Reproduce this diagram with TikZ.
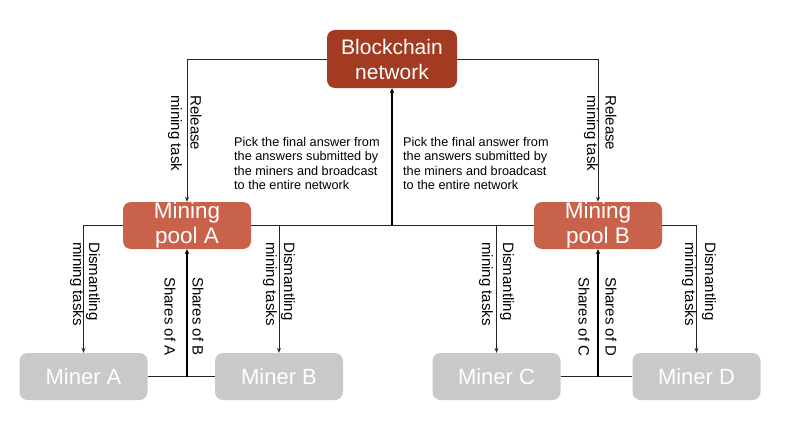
\documentclass[tikz,border=0pt]{standalone}
\usepackage{fontspec}
\setmainfont{Liberation Sans}
\usetikzlibrary{arrows.meta}
\definecolor{bcred}{HTML}{A23B22}
\definecolor{poolred}{HTML}{C9624A}
\definecolor{minergray}{HTML}{C9C9C9}
\definecolor{linec}{HTML}{262626}
\tikzset{
  box/.style={rounded corners=8pt, inner sep=0pt, align=center, text=white},
  bcbox/.style={box, fill=bcred, minimum width=130pt, minimum height=58pt, font=\fontsize{21}{25}\selectfont},
  poolbox/.style={box, fill=poolred, minimum width=128pt, minimum height=47pt, font=\fontsize{22.5}{25}\selectfont},
  minerbox/.style={box, fill=minergray, minimum width=128pt, minimum height=47pt, font=\fontsize{22}{25}\selectfont},
  conn/.style={draw=linec, line width=0.9pt},
  arr/.style={conn, -{Stealth[length=5pt,width=4pt]}},
  thickarr/.style={draw=black, line width=1.8pt, -{Stealth[length=5pt,width=4.5pt]}},
  vlabel/.style={rotate=-90, anchor=west, inner sep=0pt, font=\fontsize{15}{17}\selectfont},
  note/.style={anchor=north west, inner sep=0pt, align=left, font=\fontsize{12.7}{14.3}\selectfont}
}
\begin{document}
\begin{tikzpicture}[x=1pt,y=-1pt]
\useasboundingbox[fill=white] (0,0) rectangle (794,420);
% nodes
\node[bcbox] (bc) at (392,59) {Blockchain\\network};
\node[poolbox] (poolA) at (187,225.5) {Mining\\pool A};
\node[poolbox] (poolB) at (598,225.5) {Mining\\pool B};
\node[minerbox] (minerA) at (83.5,376.5) {Miner A};
\node[minerbox] (minerB) at (279,376.5) {Miner B};
\node[minerbox] (minerC) at (496.5,376.5) {Miner C};
\node[minerbox] (minerD) at (696.5,376.5) {Miner D};
% connectors
\draw[arr] (bc.west) -| (poolA.north);
\draw[arr] (bc.east) -| (poolB.north);
\draw[conn] (poolA.east) -- (poolB.west);
\coordinate (mid) at (poolA.east -| bc.south);
\draw[thickarr] (mid) -- (bc.south);
\draw[arr] (poolA.west) -| (minerA.north);
\draw[arr] (poolA.east) -| (minerB.north);
\draw[arr] (poolB.west) -| (minerC.north);
\draw[arr] (poolB.east) -| (minerD.north);
\draw[conn] (minerA.east) -- (minerB.west);
\draw[conn] (minerC.east) -- (minerD.west);
\coordinate (midAB) at (minerA.east -| poolA.south);
\coordinate (midCD) at (minerC.east -| poolB.south);
\draw[thickarr] (midAB) -- (poolA.south);
\draw[thickarr] (midCD) -- (poolB.south);
% labels
\node[vlabel] (relA1) at (196,95) {Release};
\node[vlabel] (relA2) at (175,95) {mining task};
\node[vlabel] (relB1) at (611,95) {Release};
\node[vlabel] (relB2) at (591,95) {mining task};
\node[vlabel] (disA1) at (93,242) {Dismantling};
\node[vlabel] (disA2) at (77,242) {mining tasks};
\node[vlabel] (disB1) at (288,242) {Dismantling};
\node[vlabel] (disB2) at (270,242) {mining tasks};
\node[vlabel] (disC1) at (507,242) {Dismantling};
\node[vlabel] (disC2) at (486,242) {mining tasks};
\node[vlabel] (disD1) at (709,242) {Dismantling};
\node[vlabel] (disD2) at (689,242) {mining tasks};
\node[vlabel] (shB) at (198,277) {Shares of B};
\node[vlabel] (shA) at (170,277) {Shares of A};
\node[vlabel] (shD) at (611,277) {Shares of D};
\node[vlabel] (shC) at (584,277) {Shares of C};
\node[note] (noteL) at (234,137) {Pick the final answer from\\the answers submitted by\\the miners and broadcast\\to the entire network};
\node[note] (noteR) at (403,137) {Pick the final answer from\\the answers submitted by\\the miners and broadcast\\to the entire network};
\end{tikzpicture}
\end{document}
